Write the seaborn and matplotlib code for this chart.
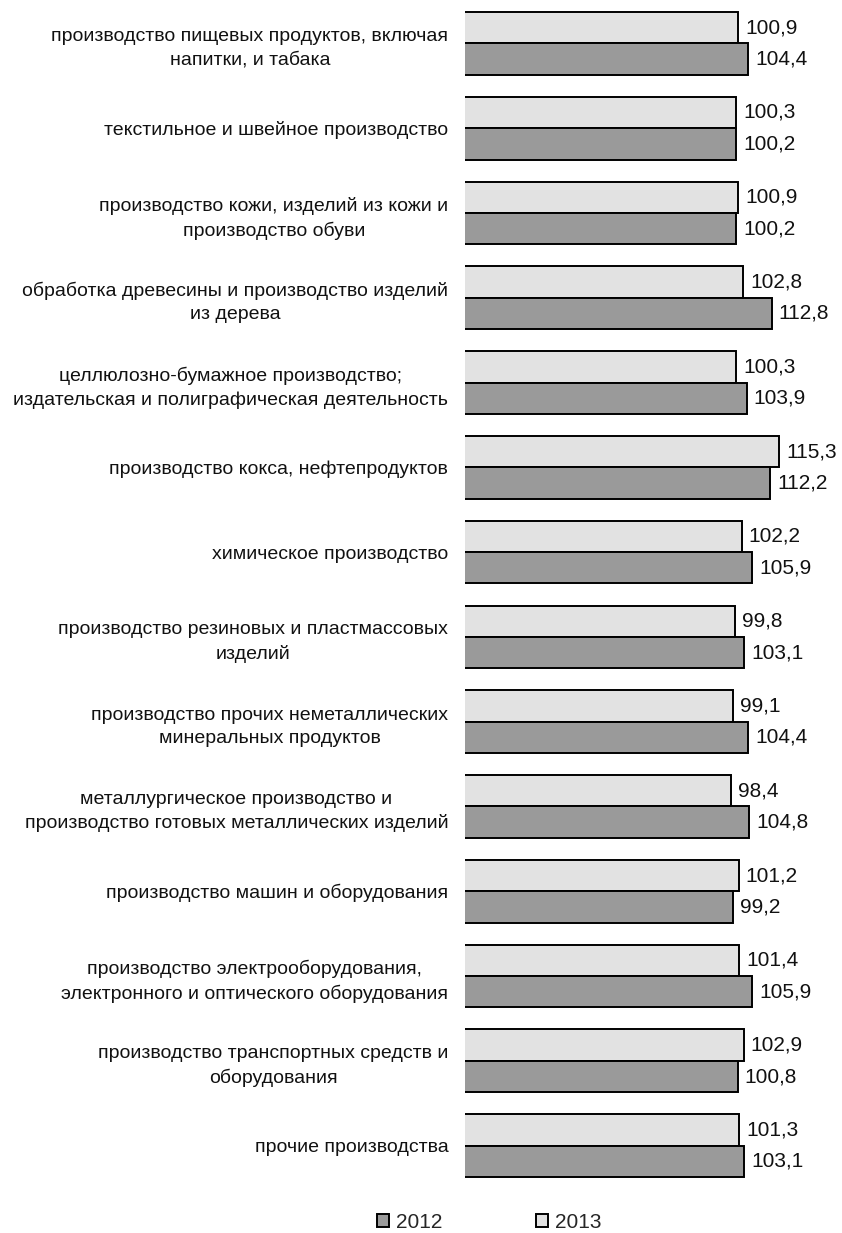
import matplotlib
matplotlib.use("Agg")
import matplotlib.pyplot as plt
import matplotlib.patches as mpatches
import pandas as pd
import seaborn as sns

categories = [
    "производство пищевых продуктов, включая\nнапитки, и табака",
    "текстильное и швейное производство",
    "производство кожи, изделий из кожи и\nпроизводство обуви",
    "обработка древесины и производство изделий\nиз дерева",
    "целлюлозно-бумажное производство;\nиздательская и полиграфическая деятельность",
    "производство кокса, нефтепродуктов",
    "химическое производство",
    "производство резиновых и пластмассовых\nизделий",
    "производство прочих неметаллических\nминеральных продуктов",
    "металлургическое производство и\nпроизводство готовых металлических изделий",
    "производство машин и оборудования",
    "производство электрооборудования,\nэлектронного и оптического оборудования",
    "производство транспортных средств и\nоборудования",
    "прочие производства",
]
values_2013 = [100.9, 100.3, 100.9, 102.8, 100.3, 115.3, 102.2,
               99.8, 99.1, 98.4, 101.2, 101.4, 102.9, 101.3]
values_2012 = [104.4, 100.2, 100.2, 112.8, 103.9, 112.2, 105.9,
               103.1, 104.4, 104.8, 99.2, 105.9, 100.8, 103.1]
years = ["2013", "2012"]

df = pd.DataFrame({
    "category": categories * 2,
    "year": ["2013"] * len(categories) + ["2012"] * len(categories),
    "value": values_2013 + values_2012,
})

colors = {"2013": "#e2e2e2", "2012": "#9a9a9a"}

sns.set_style("white")
plt.rcParams["font.family"] = ["Liberation Sans", "DejaVu Sans"]

W, H = 842, 1233
fig = plt.figure(figsize=(W / 100, H / 100), dpi=100)
ax = fig.add_axes([465 / W, 1 - 1188 / H, (830 - 465) / W, (1188 - 1) / H])

sns.barplot(
    data=df, x="value", y="category", hue="year", hue_order=years,
    palette=colors, orient="h", width=0.74, edgecolor="black",
    linewidth=1.4, saturation=1, legend=False, ax=ax,
)

ax.set_xlim(4.75, 4.75 + 365 / 2.84)
ax.set_xlabel("")
ax.set_ylabel("")
ax.set_xticks([])
for s in ax.spines.values():
    s.set_visible(False)
ax.tick_params(axis="y", length=0, pad=12, labelsize=14)
for lbl in ax.get_yticklabels():
    lbl.set_multialignment("center")
    lbl.set_linespacing(1.45)
    lbl.set_color("#111111")

for cont in ax.containers:
    ax.bar_label(cont, labels=[f"{v:.1f}".replace(".", ",") for v in cont.datavalues],
                 padding=5, fontsize=15, color="#111111")

handles = [
    mpatches.Patch(facecolor=colors["2012"], edgecolor="black", linewidth=1.4, label="2012"),
    mpatches.Patch(facecolor=colors["2013"], edgecolor="black", linewidth=1.4, label="2013"),
]
fig.legend(handles=handles, loc="center", bbox_to_anchor=(489 / W, 1 - 1222 / H),
           ncol=2, frameon=False, fontsize=15, handlelength=0.6, handleheight=0.6,
           handletextpad=0.3, columnspacing=4.5)

fig.savefig("out.png", dpi=100)
